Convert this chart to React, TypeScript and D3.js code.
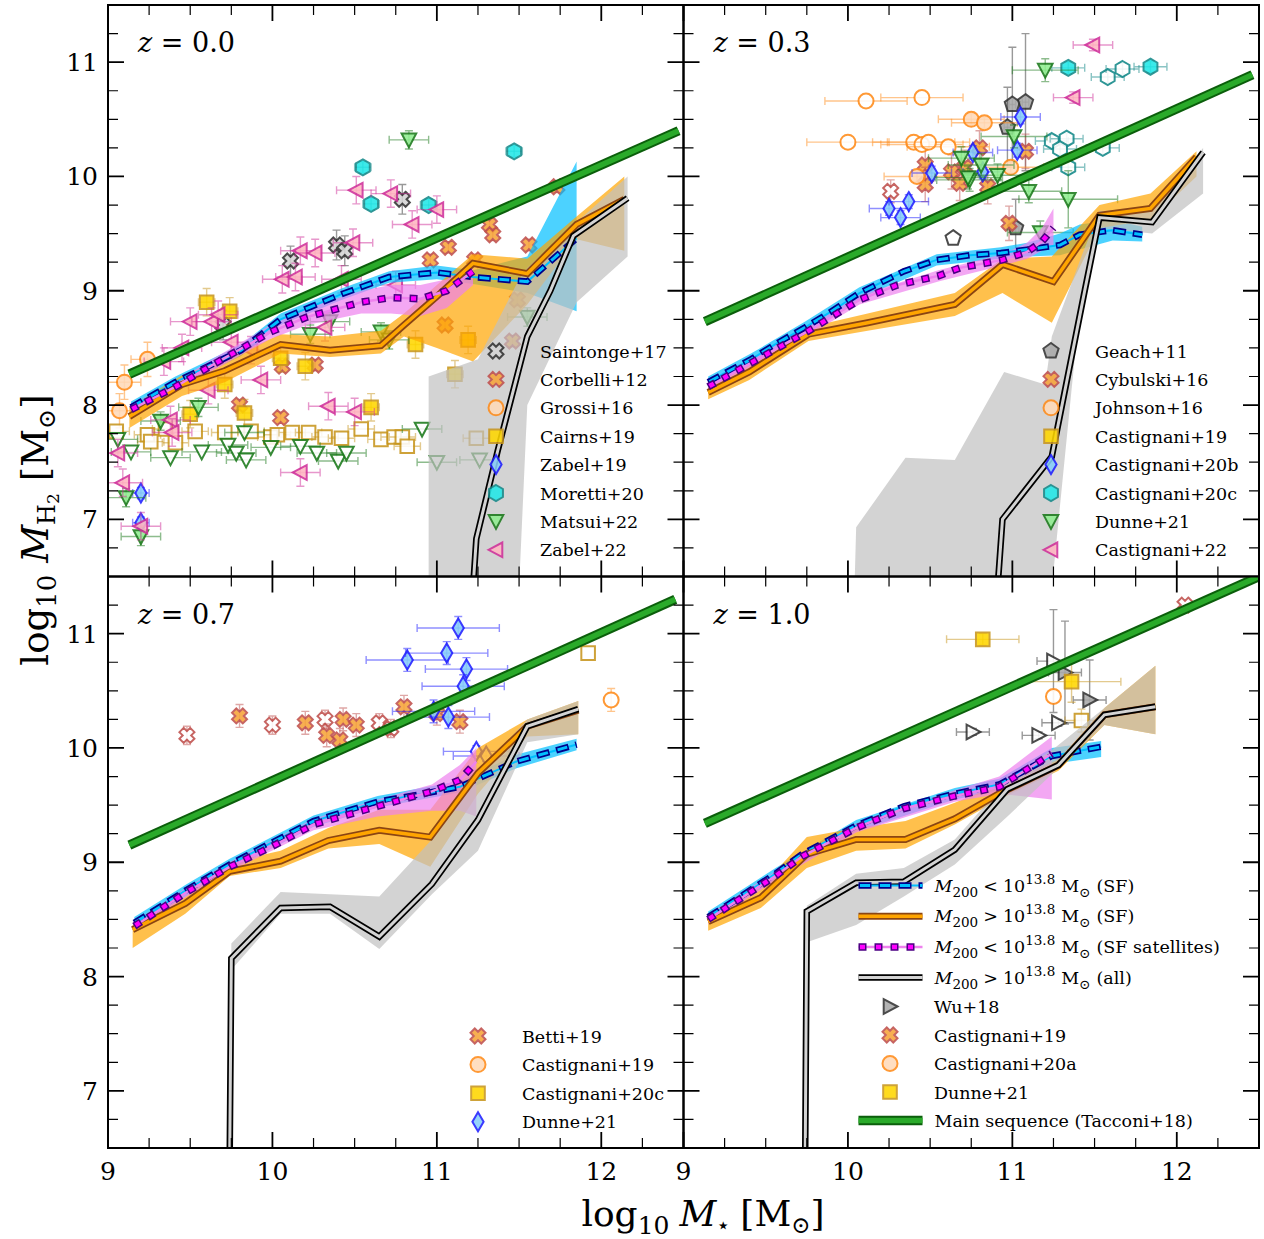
import React from "react";
import * as d3 from "d3";

// ---------- axes ----------
const xMajor = [9, 10, 11, 12];
const yMajor = [7, 8, 9, 10, 11];
const xMinor = d3.range(9.25, 12.5, 0.25);
const yMinor = d3.range(6.75, 11.5, 0.25);

// ---------- z = 0.0 : observations ----------
const saintonge17 = [[10.11, 9.26], [10.39, 9.40], [10.44, 9.35], [10.79, 9.80], [9.70, 8.70]];
const corbelli12 = [[9.80, 8.00], [10.05, 7.89], [10.06, 8.34], [10.26, 8.35], [10.96, 9.27], [11.05, 8.70], [11.07, 9.38], [11.23, 9.27], [11.32, 9.58], [11.34, 9.49], [11.56, 9.40], [11.73, 9.91], [11.46, 8.56], [11.49, 8.92]];
const grossi16 = [[9.07, 7.95], [9.10, 8.20], [9.24, 8.40]];
const cairns19 = [[9.60, 8.90], [9.74, 8.82], [9.71, 8.18], [10.05, 8.41], [10.20, 8.34], [9.83, 7.93], [9.50, 7.92], [10.60, 7.98], [10.87, 8.53], [11.19, 8.57], [11.11, 8.27]];
const cairns19Lim = [[9.05, 7.77], [9.24, 7.74], [9.26, 7.68], [9.35, 7.79], [9.41, 7.67], [9.53, 7.77], [9.71, 7.76], [9.87, 7.77], [9.99, 7.72], [10.03, 7.74], [10.12, 7.76], [10.22, 7.76], [10.32, 7.72], [10.42, 7.71], [10.54, 7.79], [10.66, 7.70], [10.74, 7.72], [10.79, 7.72], [10.82, 7.64], [11.24, 7.71]];
const zabel19 = [[9.20, 7.23], [9.20, 6.97]];
const moretti20 = [[10.55, 10.08], [10.60, 9.76], [10.95, 9.75], [11.47, 10.22]];
const matsui22 = [[9.11, 7.19], [9.20, 6.85], [9.32, 7.86], [9.55, 7.98], [10.23, 8.62], [10.35, 8.73], [10.66, 8.64], [10.71, 8.57], [10.83, 10.32], [11.55, 8.77]];
const matsui22Lim = [[9.06, 7.70], [9.14, 7.59], [9.38, 7.54], [9.57, 7.59], [9.73, 7.65], [9.78, 7.58], [9.84, 7.52], [9.83, 7.76], [9.99, 7.63], [10.17, 7.64], [10.27, 7.58], [10.40, 7.51], [10.45, 7.58], [10.91, 7.79], [11.0, 7.50], [11.26, 7.52]];
const zabel22 = [[10.51, 9.88], [10.72, 9.85], [10.17, 9.35], [10.26, 9.33], [10.49, 9.42], [10.06, 9.10], [10.14, 9.12], [11.0, 9.71], [10.85, 9.58], [9.50, 8.73], [9.63, 8.73], [9.67, 8.79], [9.34, 8.38], [9.61, 8.13], [9.93, 8.22], [9.38, 7.87], [9.39, 7.76], [9.06, 7.58], [9.09, 7.32], [9.20, 6.94], [10.17, 7.41], [10.34, 7.99], [10.50, 7.94], [10.32, 8.68], [9.87, 8.48], [10.75, 9.05], [10.42, 9.10], [9.45, 8.50], [9.75, 8.55]];

// ---------- z = 0.0 : simulation ----------
const ms0 = [[9.13, 8.27], [12.47, 10.40]];
const blue0 = [[9.14, 7.98], [9.41, 8.20], [9.81, 8.48], [10.05, 8.75], [10.42, 8.97], [10.71, 9.12], [11.0, 9.16], [11.22, 9.12], [11.55, 9.08], [11.85, 9.46]];
const blueBand0 = [[9.14, 7.93, 8.03], [9.41, 8.15, 8.25], [9.81, 8.43, 8.53], [10.05, 8.70, 8.80], [10.42, 8.92, 9.02], [10.71, 9.07, 9.17], [11.0, 9.10, 9.22], [11.22, 9.06, 9.18], [11.55, 8.98, 9.30], [11.85, 8.82, 10.13]];
const orange0 = [[9.13, 7.90], [9.45, 8.18], [9.71, 8.30], [10.05, 8.53], [10.35, 8.48], [10.66, 8.52], [10.80, 8.70], [11.0, 8.95], [11.22, 9.24], [11.55, 9.15], [11.85, 9.58], [12.14, 9.80]];
const orangeBand0 = [[9.13, 7.80, 7.98], [9.45, 8.08, 8.26], [9.71, 8.20, 8.40], [10.05, 8.45, 8.62], [10.35, 8.42, 8.60], [10.66, 8.45, 8.65], [10.80, 8.60, 8.80], [11.0, 8.50, 9.05], [11.22, 8.38, 9.32], [11.55, 8.88, 9.28], [11.85, 9.45, 9.65], [12.14, 9.35, 10.0]];
const mag0 = [[9.14, 7.96], [9.41, 8.16], [9.61, 8.33], [9.99, 8.64], [10.21, 8.77], [10.54, 8.90], [10.72, 8.94], [10.90, 8.93], [11.06, 9.00], [11.22, 9.17]];
const magBand0 = [[9.14, 7.92, 8.00], [9.41, 8.12, 8.20], [9.61, 8.28, 8.38], [9.99, 8.58, 8.70], [10.21, 8.70, 8.85], [10.54, 8.80, 9.00], [10.72, 8.80, 9.05], [10.90, 8.78, 9.05], [11.06, 8.85, 9.10], [11.22, 9.05, 9.25]];
const black0 = [[11.22, 6.4], [11.24, 6.83], [11.37, 7.60], [11.55, 8.60], [11.69, 9.00], [11.83, 9.48], [12.16, 9.81]];
const greyBand0 = [[10.95, 6.4, 8.25], [11.25, 6.4, 8.40], [11.50, 6.4, 9.10], [11.55, 8.00, 9.20], [11.85, 8.90, 9.60], [12.16, 9.30, 10.0]];

// ---------- z = 0.3 : observations ----------
const geach11 = [[11.0, 10.63, 0.02, 0.5], [11.08, 10.65, 0.02, 0.6], [10.97, 10.43, 0.02, 0.35], [11.02, 9.55, 0.02, 0.25]];
const geach11Lim = [[10.64, 9.46]];
const cybulski16 = [[10.47, 10.10], [10.47, 9.93], [10.63, 10.04], [10.68, 9.94], [10.71, 10.08], [10.80, 10.25], [10.85, 9.91], [11.08, 10.22], [10.98, 9.59]];
const cybulski16Lim = [[10.26, 9.87]];
const johnson16 = [[10.75, 10.50], [10.83, 10.47], [10.42, 10.0], [10.99, 10.08]];
const johnson16Lim = [[10.11, 10.66], [10.45, 10.69], [10.0, 10.30], [10.40, 10.30], [10.45, 10.28], [10.49, 10.30], [10.61, 10.26]];
const castignani20b = [[10.25, 9.72], [10.37, 9.78], [10.32, 9.64], [10.51, 10.03], [10.76, 10.21], [11.05, 10.52], [11.03, 10.23], [10.82, 10.04]];
const castignani20c = [[11.34, 10.95], [11.84, 10.96]];
const castignani20cLim = [[11.58, 10.87], [11.67, 10.94], [11.24, 10.31], [11.33, 10.33], [11.29, 10.24], [11.55, 10.25], [11.34, 10.08]];
const dunne21 = [[11.2, 10.93], [11.01, 10.35], [10.69, 10.16], [10.81, 10.10], [10.74, 9.97], [10.91, 10.01], [11.10, 9.87], [11.34, 9.80, 0.3, 0.25], [11.17, 9.51], [10.73, 9.99]];
const castignani22 = [[11.49, 11.15], [11.37, 10.69]];

// ---------- z = 0.3 : simulation ----------
const ms3 = [[9.13, 8.73], [12.46, 10.89]];
const blue3 = [[9.15, 8.20], [9.24, 8.27], [9.41, 8.40], [9.58, 8.55], [9.74, 8.68], [9.89, 8.81], [10.07, 8.98], [10.34, 9.17], [10.54, 9.27], [10.74, 9.31], [10.93, 9.33], [11.09, 9.36], [11.29, 9.40], [11.41, 9.49], [11.61, 9.53], [11.79, 9.49]];
const blueBand3 = [[9.15, 8.15, 8.25], [9.41, 8.35, 8.45], [9.74, 8.63, 8.73], [10.07, 8.93, 9.03], [10.54, 9.22, 9.32], [10.93, 9.28, 9.38], [11.09, 9.30, 9.42], [11.29, 9.31, 9.50], [11.41, 9.36, 9.58], [11.61, 9.44, 9.62], [11.79, 9.43, 9.56]];
const orange3 = [[9.15, 8.11], [9.40, 8.29], [9.76, 8.62], [10.12, 8.72], [10.65, 8.88], [10.94, 9.23], [11.25, 9.08], [11.53, 9.66], [11.84, 9.72], [12.12, 10.17]];
const orangeBand3 = [[9.15, 8.05, 8.16], [9.40, 8.22, 8.35], [9.76, 8.56, 8.68], [10.12, 8.65, 8.80], [10.65, 8.78, 8.98], [10.94, 8.98, 9.28], [11.24, 8.72, 9.30], [11.53, 9.55, 9.75], [11.84, 9.62, 9.85], [12.12, 10.0, 10.22]];
const mag3 = [[9.15, 8.16], [9.40, 8.36], [9.75, 8.64], [10.07, 8.92], [10.30, 9.05], [10.55, 9.13], [10.68, 9.20], [10.94, 9.27], [11.09, 9.34], [11.18, 9.43], [11.25, 9.55]];
const magBand3 = [[9.15, 8.12, 8.20], [9.40, 8.32, 8.40], [9.75, 8.60, 8.68], [10.07, 8.88, 8.96], [10.55, 9.08, 9.18], [10.94, 9.22, 9.32], [11.09, 9.28, 9.42], [11.18, 9.35, 9.55], [11.25, 9.40, 9.72]];
const black3 = [[10.91, 6.4], [10.94, 7.00], [11.24, 7.55], [11.44, 9.00], [11.53, 9.64], [11.85, 9.60], [12.16, 10.21]];
const greyBand3 = [[10.04, 6.4, 6.4], [10.05, 6.4, 6.93], [10.35, 6.4, 7.54], [10.65, 6.4, 7.52], [10.95, 6.4, 8.29], [11.20, 6.4, 8.18], [11.24, 6.4, 8.60], [11.42, 9.00, 9.30], [11.53, 9.55, 9.70], [11.85, 9.50, 9.70], [12.16, 9.85, 10.25]];

// ---------- z = 0.7 : observations ----------
const betti19 = [[9.80, 10.28], [10.20, 10.22], [10.33, 10.11], [10.43, 10.25], [10.41, 10.07], [10.51, 10.20], [10.80, 10.36], [11.14, 10.23], [11.0, 10.30]];
const betti19Lim = [[9.48, 10.11], [10.0, 10.20], [10.32, 10.25], [10.65, 10.22], [10.72, 10.17]];
const castignani19z07Lim = [[12.06, 10.42]];
const castignani20cz07Lim = [[11.92, 10.83]];
const dunne21z07 = [[11.13, 11.05], [10.82, 10.77], [11.06, 10.83], [11.18, 10.69], [11.16, 10.54], [10.98, 10.32], [11.07, 10.27]];
const dunne21z07Lim = [[11.24, 9.97], [11.30, 9.93]];

// ---------- z = 0.7 : simulation ----------
const ms7 = [[9.13, 9.15], [12.45, 11.30]];
const blue7 = [[9.16, 8.47], [9.24, 8.54], [9.48, 8.76], [9.74, 8.98], [9.98, 9.16], [10.25, 9.36], [10.64, 9.53], [10.92, 9.60], [11.14, 9.66], [11.48, 9.88], [11.85, 10.03]];
const blueBand7 = [[9.16, 8.42, 8.52], [9.48, 8.71, 8.81], [9.74, 8.93, 9.03], [10.25, 9.31, 9.41], [10.64, 9.48, 9.58], [11.14, 9.61, 9.71], [11.48, 9.82, 9.94], [11.85, 9.98, 10.08]];
const orange7 = [[9.15, 8.41], [9.47, 8.64], [9.74, 8.92], [10.05, 9.01], [10.34, 9.19], [10.65, 9.28], [10.96, 9.22], [11.25, 9.78], [11.55, 10.19], [11.86, 10.33]];
const orangeBand7 = [[9.15, 8.25, 8.45], [9.47, 8.55, 8.70], [9.74, 8.88, 9.00], [10.05, 8.95, 9.10], [10.34, 9.12, 9.30], [10.65, 9.16, 9.46], [10.96, 8.96, 9.46], [11.25, 9.60, 10.0], [11.55, 10.10, 10.25], [11.86, 10.12, 10.41]];
const mag7 = [[9.16, 8.44], [9.48, 8.74], [9.74, 8.96], [10.0, 9.14], [10.25, 9.33], [10.64, 9.49], [10.97, 9.62], [11.14, 9.72], [11.24, 9.88]];
const magBand7 = [[9.16, 8.40, 8.48], [9.48, 8.70, 8.78], [9.74, 8.92, 9.00], [10.25, 9.28, 9.38], [10.64, 9.40, 9.55], [10.97, 9.45, 9.68], [11.14, 9.45, 9.85], [11.24, 9.40, 10.0]];
const black7 = [[9.74, 6.4], [9.75, 8.16], [10.05, 8.60], [10.35, 8.61], [10.65, 8.35], [10.97, 8.81], [11.25, 9.37], [11.55, 10.19], [11.86, 10.34]];
const greyBand7 = [[9.75, 8.06, 8.29], [10.05, 8.55, 8.74], [10.35, 8.55, 8.72], [10.65, 8.24, 8.70], [10.97, 8.72, 9.20], [11.25, 9.10, 9.78], [11.55, 10.05, 10.25], [11.86, 10.12, 10.41]];

// ---------- z = 1.0 : observations ----------
const wu18 = [[11.32, 10.66, 0.1, 0.45], [11.47, 10.42, 0.1, 0.35]];
const wu18Lim = [[11.25, 10.76, 0.1, 0.45], [11.28, 10.22], [10.76, 10.14], [11.16, 10.11]];
const castignani19z1Lim = [[12.05, 11.25]];
const castignani20aLim = [[11.25, 10.45]];
const dunne21z1 = [[10.82, 10.95, 0.22, 0.05], [11.36, 10.58, 0.3, 0.18]];
const dunne21z1Lim = [[11.42, 10.24]];

// ---------- z = 1.0 : simulation ----------
const ms10 = [[9.13, 9.34], [12.5, 11.50]];
const blue10 = [[9.15, 8.52], [9.24, 8.60], [9.56, 8.90], [9.72, 9.07], [10.05, 9.32], [10.34, 9.49], [10.65, 9.60], [10.92, 9.68], [11.24, 9.93], [11.54, 10.01]];
const blueBand10 = [[9.15, 8.47, 8.57], [9.56, 8.85, 8.95], [10.05, 9.27, 9.37], [10.65, 9.55, 9.65], [10.92, 9.63, 9.73], [11.24, 9.86, 10.0], [11.54, 9.92, 10.06]];
const orange10 = [[9.15, 8.48], [9.47, 8.69], [9.75, 9.07], [10.05, 9.20], [10.35, 9.20], [10.65, 9.38], [10.92, 9.60], [11.28, 9.85], [11.56, 10.29], [11.87, 10.36]];
const orangeBand10 = [[9.15, 8.40, 8.55], [9.47, 8.60, 8.78], [9.75, 8.95, 9.22], [10.05, 9.10, 9.30], [10.35, 9.12, 9.36], [10.65, 9.33, 9.52], [10.92, 9.55, 9.68], [11.28, 9.80, 9.90], [11.56, 10.20, 10.35], [11.87, 10.12, 10.72]];
const mag10 = [[9.15, 8.50], [9.56, 8.88], [9.72, 9.05], [10.05, 9.30], [10.34, 9.47], [10.65, 9.58], [10.92, 9.66], [11.24, 9.95]];
const magBand10 = [[9.15, 8.46, 8.54], [9.56, 8.84, 8.92], [10.05, 9.26, 9.34], [10.65, 9.53, 9.63], [10.92, 9.60, 9.75], [11.24, 9.55, 10.10]];
const black10 = [[9.74, 6.4], [9.75, 8.57], [10.05, 8.82], [10.34, 8.83], [10.65, 9.11], [10.97, 9.64], [11.28, 9.85], [11.56, 10.29], [11.87, 10.36]];
const greyBand10 = [[9.75, 8.30, 8.62], [10.05, 8.45, 8.90], [10.34, 8.70, 8.95], [10.65, 8.98, 9.20], [10.97, 9.40, 9.72], [11.24, 9.77, 9.98], [11.56, 10.20, 10.35], [11.87, 10.12, 10.72]];

// ---------- styles ----------
const PW = 575.5;
const PH = 571.5;
const FONT = "DejaVu Serif";

const ST = {
  saint: { shape: "X", fill: "#d4d4d4", stroke: "#333333" },
  corb: { shape: "X", fill: "#f7a53a", stroke: "#c0504d" },
  circ: { shape: "o", fill: "#ffdab9", stroke: "#ff8c1a" },
  sq: { shape: "s", fill: "#ffd700", stroke: "#c8961e" },
  dia: { shape: "d", fill: "#87cefa", stroke: "#1f1fff" },
  hex: { shape: "h", fill: "#22e8e8", stroke: "#158a8a" },
  tdn: { shape: "v", fill: "#90ee90", stroke: "#1b7a1b" },
  tlf: { shape: "<", fill: "#ffb6c1", stroke: "#d0309a" },
  pent: { shape: "p", fill: "#a9a9a9", stroke: "#333333" },
  trt: { shape: ">", fill: "#a9a9a9", stroke: "#333333" },
};

function markerD(shape) {
  const poly = (pts) => "M" + pts.map((p) => p[0].toFixed(2) + "," + p[1].toFixed(2)).join("L") + "Z";
  const ngon = (n, r) => d3.range(n).map((i) => {
    const a = -Math.PI / 2 + (i * 2 * Math.PI) / n;
    return [r * Math.cos(a), r * Math.sin(a)];
  });
  switch (shape) {
    case "o": return "M7.5,0A7.5,7.5 0 1 1 -7.5,0A7.5,7.5 0 1 1 7.5,0Z";
    case "s": return poly([[-6.8, -6.8], [6.8, -6.8], [6.8, 6.8], [-6.8, 6.8]]);
    case "d": return poly([[0, -9.5], [5.6, 0], [0, 9.5], [-5.6, 0]]);
    case "h": return poly(ngon(6, 8));
    case "p": return poly(ngon(5, 8));
    case "v": return poly([[-7.3, -6.3], [7.3, -6.3], [0, 7.5]]);
    case "<": return poly([[-7.5, 0], [6.3, -7.3], [6.3, 7.3]]);
    case ">": return poly([[7.5, 0], [-6.3, -7.3], [-6.3, 7.3]]);
    default: {
      const w = 3, L = 7.6, k = Math.SQRT1_2;
      const c = [[-w, -L], [w, -L], [w, -w], [L, -w], [L, w], [w, w], [w, L], [-w, L], [-w, w], [-L, w], [-L, -w], [-w, -w]];
      return poly(c.map(([a, b]) => [(a - b) * k, (a + b) * k]));
    }
  }
}

function Scatter({ s, x, y }) {
  const d = markerD(s.st.shape);
  return (
    <g>
      {s.pts.map((p, i) => {
        const px = x(p[0]), py = y(p[1]);
        const ex = p[2] ?? s.xe, ey = p[3] ?? s.ye;
        const x0 = x(p[0] - ex), x1 = x(p[0] + ex), y0 = y(p[1] - ey), y1 = y(p[1] + ey);
        return (
          <g key={i}>
            <g stroke={s.st.stroke} strokeOpacity={0.5} strokeWidth={1.4} fill="none">
              {ex > 0 && <path d={`M${x0},${py}H${x1}M${x0},${py - 4}V${py + 4}M${x1},${py - 4}V${py + 4}`} />}
              {ey > 0 && <path d={`M${px},${y0}V${y1}M${px - 4},${y0}H${px + 4}M${px - 4},${y1}H${px + 4}`} />}
            </g>
            <path d={d} transform={`translate(${px},${py})`} fill={s.open ? "#ffffff" : s.st.fill}
              stroke={s.st.stroke} strokeWidth={2} opacity={0.88} />
          </g>
        );
      })}
    </g>
  );
}

function Styled({ d, kind }) {
  if (kind === "blue") return (
    <g fill="none">
      <path d={d} stroke="#00bfff" strokeWidth={2} />
      <path d={d} stroke="#00008b" strokeWidth={6.5} strokeDasharray="13 7" />
      <path d={d} stroke="#00bfff" strokeWidth={3} strokeDasharray="10 10" strokeDashoffset={-1.5} />
    </g>
  );
  if (kind === "mag") return (
    <g fill="none">
      <path d={d} stroke="#ee82ee" strokeWidth={2.5} />
      <path d={d} stroke="#4b0082" strokeWidth={7.5} strokeDasharray="8 8" />
      <path d={d} stroke="#ff00ff" strokeWidth={4.5} strokeDasharray="5 11" strokeDashoffset={-1.5} />
    </g>
  );
  const c = { orange: ["#8b4513", "#ffa500", 7, 3.5], black: ["#000000", "#d3d3d3", 6.5, 3], green: ["#0b5e0b", "#2aaa2a", 9.5, 5.5] }[kind];
  return (
    <g fill="none">
      <path d={d} stroke={c[0]} strokeWidth={c[2]} />
      <path d={d} stroke={c[1]} strokeWidth={c[3]} />
    </g>
  );
}

const legend0 = [
  [ST.saint, "Saintonge+17"], [ST.corb, "Corbelli+12"], [ST.circ, "Grossi+16"], [ST.sq, "Cairns+19"],
  [ST.dia, "Zabel+19"], [ST.hex, "Moretti+20"], [ST.tdn, "Matsui+22"], [ST.tlf, "Zabel+22"],
];
const legend3 = [
  [ST.pent, "Geach+11"], [ST.corb, "Cybulski+16"], [ST.circ, "Johnson+16"], [ST.sq, "Castignani+19"],
  [ST.dia, "Castignani+20b"], [ST.hex, "Castignani+20c"], [ST.tdn, "Dunne+21"], [ST.tlf, "Castignani+22"],
];
const legend7 = [[ST.corb, "Betti+19"], [ST.circ, "Castignani+19"], [ST.sq, "Castignani+20c"], [ST.dia, "Dunne+21"]];
const legend10 = [[ST.trt, "Wu+18"], [ST.corb, "Castignani+19"], [ST.circ, "Castignani+20a"], [ST.sq, "Dunne+21"]];

const panelDefs = [
  {
    col: 0, row: 0, z: "0.0", ms: ms0, blue: blue0, blueBand: blueBand0, orange: orange0, orangeBand: orangeBand0,
    mag: mag0, magBand: magBand0, black: black0, greyBand: greyBand0,
    sets: [
      { pts: saintonge17, st: ST.saint, xe: 0, ye: 0.13 },
      { pts: corbelli12, st: ST.corb, xe: 0, ye: 0.05 },
      { pts: grossi16, st: ST.circ, xe: 0.1, ye: 0.15 },
      { pts: cairns19Lim, st: ST.sq, open: true, xe: 0.08, ye: 0 },
      { pts: cairns19, st: ST.sq, xe: 0.05, ye: 0.12 },
      { pts: zabel19, st: ST.dia, xe: 0.05, ye: 0.05 },
      { pts: moretti20, st: ST.hex, xe: 0.05, ye: 0.05 },
      { pts: matsui22Lim, st: ST.tdn, open: true, xe: 0.12, ye: 0 },
      { pts: matsui22, st: ST.tdn, xe: 0.12, ye: 0.08 },
      { pts: zabel22, st: ST.tlf, xe: 0.12, ye: 0.12 },
    ],
    legend: { mx: 388, tx: 432, y0: 346, dy: 28.4, items: legend0 },
  },
  {
    col: 1, row: 0, z: "0.3", ms: ms3, blue: blue3, blueBand: blueBand3, orange: orange3, orangeBand: orangeBand3,
    mag: mag3, magBand: magBand3, black: black3, greyBand: greyBand3,
    sets: [
      { pts: geach11, st: ST.pent, xe: 0.02, ye: 0.3 },
      { pts: geach11Lim, st: ST.pent, open: true, xe: 0, ye: 0 },
      { pts: cybulski16, st: ST.corb, xe: 0, ye: 0.15 },
      { pts: cybulski16Lim, st: ST.corb, open: true, xe: 0, ye: 0.1 },
      { pts: johnson16Lim, st: ST.circ, open: true, xe: 0.25, ye: 0 },
      { pts: johnson16, st: ST.circ, xe: 0.2, ye: 0.05 },
      { pts: castignani20b, st: ST.dia, xe: 0.12, ye: 0.06 },
      { pts: castignani20cLim, st: ST.hex, open: true, xe: 0.1, ye: 0.05 },
      { pts: castignani20c, st: ST.hex, xe: 0.1, ye: 0.05 },
      { pts: dunne21, st: ST.tdn, xe: 0.2, ye: 0.1 },
      { pts: castignani22, st: ST.tlf, xe: 0.12, ye: 0.05 },
    ],
    legend: { mx: 367.5, tx: 411.5, y0: 346, dy: 28.4, items: legend3 },
  },
  {
    col: 0, row: 1, z: "0.7", ms: ms7, blue: blue7, blueBand: blueBand7, orange: orange7, orangeBand: orangeBand7,
    mag: mag7, magBand: magBand7, black: black7, greyBand: greyBand7,
    sets: [
      { pts: betti19Lim, st: ST.corb, open: true, xe: 0, ye: 0.08 },
      { pts: betti19, st: ST.corb, xe: 0, ye: 0.1 },
      { pts: castignani19z07Lim, st: ST.circ, open: true, xe: 0, ye: 0.1 },
      { pts: castignani20cz07Lim, st: ST.sq, open: true, xe: 0, ye: 0 },
      { pts: dunne21z07, st: ST.dia, xe: 0.25, ye: 0.1 },
      { pts: dunne21z07Lim, st: ST.dia, open: true, xe: 0.2, ye: 0.05 },
    ],
    legend: { mx: 370, tx: 414, y0: 459.5, dy: 28.6, items: legend7 },
  },
  {
    col: 1, row: 1, z: "1.0", ms: ms10, blue: blue10, blueBand: blueBand10, orange: orange10, orangeBand: orangeBand10,
    mag: mag10, magBand: magBand10, black: black10, greyBand: greyBand10,
    sets: [
      { pts: wu18, st: ST.trt, xe: 0.1, ye: 0.1 },
      { pts: wu18Lim, st: ST.trt, open: true, xe: 0.1, ye: 0.03 },
      { pts: castignani19z1Lim, st: ST.corb, open: true, xe: 0, ye: 0 },
      { pts: castignani20aLim, st: ST.circ, open: true, xe: 0, ye: 0.05 },
      { pts: dunne21z1, st: ST.sq, xe: 0.2, ye: 0.1 },
      { pts: dunne21z1Lim, st: ST.sq, open: true, xe: 0.1, ye: 0.1 },
    ],
    legend: { mx: 206.5, tx: 250.5, y0: 430, dy: 28.5, items: legend10 },
    lineLegend: true,
  },
];

function MText({ rel, tail }) {
  // M_200 <> 10^13.8 M_sun (tail)
  return (
    <>
      <tspan fontStyle="italic">M</tspan>
      <tspan dy={5} fontSize={13.5}>200</tspan>
      <tspan dy={-5} dx={5}>{rel}</tspan>
      <tspan dx={5}>10</tspan>
      <tspan dy={-8} fontSize={13.5}>13.8</tspan>
      <tspan dy={8} dx={6}>M</tspan>
      <tspan dy={5} fontSize={13.5}>⊙</tspan>
      <tspan dy={-5} dx={6}>{`(${tail})`}</tspan>
    </>
  );
}

function Panel({ p }) {
  const ox = p.col === 0 ? 108 : 683.5;
  const oy = p.row === 0 ? 5 : 576.5;
  const x = d3.scaleLinear().domain([9, 12.5]).range([0, PW]);
  const y = d3.scaleLinear().domain([6.5, 11.5]).range([PH, 0]);
  const line = d3.line().x((d) => x(d[0])).y((d) => y(d[1]));
  const area = d3.area().x((d) => x(d[0])).y0((d) => y(d[1])).y1((d) => y(d[2]));
  const cid = `clip${p.col}${p.row}`;
  const L = p.legend;
  const lineRows = [
    ["blue", "<", "SF"], ["orange", ">", "SF"], ["mag", "<", "SF satellites"], ["black", ">", "all"],
  ];
  return (
    <g transform={`translate(${ox},${oy})`}>
      <defs>
        <clipPath id={cid}><rect width={PW} height={PH} /></clipPath>
      </defs>
      <g clipPath={`url(#${cid})`}>
        {p.sets.map((s, i) => <Scatter key={i} s={s} x={x} y={y} />)}
        <path d={area(p.blueBand)} fill="#00bfff" fillOpacity={0.7} />
        <path d={area(p.orangeBand)} fill="#ffa500" fillOpacity={0.7} />
        <path d={area(p.magBand)} fill="#ee82ee" fillOpacity={0.7} />
        <path d={area(p.greyBand)} fill="#c0c0c0" fillOpacity={0.7} />
        <Styled d={line(p.blue)} kind="blue" />
        <Styled d={line(p.orange)} kind="orange" />
        <Styled d={line(p.mag)} kind="mag" />
        <Styled d={line(p.black)} kind="black" />
        <Styled d={line(p.ms)} kind="green" />
      </g>
      {/* ticks */}
      <g stroke="#000">
        {xMajor.map((t) => (
          <path key={"xM" + t} d={`M${x(t)},${PH}v-16M${x(t)},0v16`} strokeWidth={1.8} />
        ))}
        {xMinor.filter((t) => !xMajor.includes(t)).map((t) => (
          <path key={"xm" + t} d={`M${x(t)},${PH}v-10M${x(t)},0v10`} strokeWidth={1.2} />
        ))}
        {yMajor.map((t) => (
          <path key={"yM" + t} d={`M0,${y(t)}h16M${PW},${y(t)}h-16`} strokeWidth={1.8} />
        ))}
        {yMinor.filter((t) => !yMajor.includes(t)).map((t) => (
          <path key={"ym" + t} d={`M0,${y(t)}h10M${PW},${y(t)}h-10`} strokeWidth={1.2} />
        ))}
      </g>
      <rect width={PW} height={PH} fill="none" stroke="#000" strokeWidth={2} />
      {/* tick labels */}
      {p.col === 0 && yMajor.map((t) => (
        <text key={"yl" + t} x={-10} y={y(t) + 9} textAnchor="end" fontSize={25} fontFamily={FONT}>{t}</text>
      ))}
      {p.row === 1 && xMajor.map((t) => (
        <text key={"xl" + t} x={x(t)} y={PH + 32} textAnchor="middle" fontSize={25} fontFamily={FONT}>{t}</text>
      ))}
      <text x={30} y={47} fontSize={27} fontFamily={FONT}>
        <tspan fontStyle="italic">z</tspan>{` = ${p.z}`}
      </text>
      {/* legend */}
      {p.lineLegend && lineRows.map((r, i) => {
        const yy = 309 + i * 30.7;
        return (
          <g key={"ll" + i}>
            <Styled d={`M175,${yy}L239,${yy}`} kind={r[0]} />
            <text x={251} y={yy + 6} fontSize={17.5} fontFamily={FONT}>
              <MText rel={r[1]} tail={r[2]} />
            </text>
          </g>
        );
      })}
      {L.items.map((it, i) => {
        const yy = L.y0 + i * L.dy;
        return (
          <g key={"lg" + i}>
            <path d={markerD(it[0].shape)} transform={`translate(${L.mx},${yy})`} fill={it[0].fill}
              stroke={it[0].stroke} strokeWidth={2} opacity={0.88} />
            <text x={L.tx} y={yy + 6.5} fontSize={17.5} fontFamily={FONT}>{it[1]}</text>
          </g>
        );
      })}
      {p.lineLegend && (
        <g>
          <Styled d={`M175,${544}L239,${544}`} kind="green" />
          <text x={251} y={550.5} fontSize={17.5} fontFamily={FONT}>Main sequence (Tacconi+18)</text>
        </g>
      )}
    </g>
  );
}

export default function App() {
  return (
    <svg width={1264} height={1239} style={{ position: "absolute", left: 0, top: 0, background: "#fff" }}
      fontFamily={FONT}>
      <rect width={1264} height={1239} fill="#fff" />
      {panelDefs.map((p, i) => <Panel key={i} p={p} />)}
      <text x={703} y={1226} textAnchor="middle" fontSize={36} fontFamily={FONT}>
        log<tspan dy={8} fontSize={25}>10</tspan>
        <tspan dy={-8} dx={10} fontStyle="italic">M</tspan>
        <tspan dy={7} fontSize={23}>⋆</tspan>
        <tspan dy={-7} dx={10}>[M</tspan>
        <tspan dy={7} fontSize={23}>⊙</tspan>
        <tspan dy={-7}>]</tspan>
      </text>
      <text transform="translate(48,530) rotate(-90)" textAnchor="middle" fontSize={37} fontFamily={FONT}>
        log<tspan dy={8} fontSize={26}>10</tspan>
        <tspan dy={-8} dx={12} fontStyle="italic">M</tspan>
        <tspan dy={7} fontSize={24}>H</tspan>
        <tspan dy={4} fontSize={17}>2</tspan>
        <tspan dy={-11} dx={12}>[M</tspan>
        <tspan dy={7} fontSize={24}>⊙</tspan>
        <tspan dy={-7}>]</tspan>
      </text>
    </svg>
  );
}
